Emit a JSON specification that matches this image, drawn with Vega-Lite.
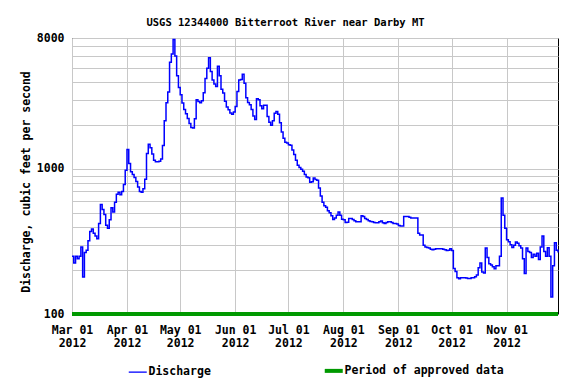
{
  "$schema": "https://vega.github.io/schema/vega-lite/v6.json",
  "width": 486,
  "height": 276,
  "autosize": {"type": "none"},
  "padding": {"left": 72, "top": 38, "right": 18, "bottom": 70},
  "background": "white",
  "title": {
    "text": "USGS 12344000 Bitterroot River near Darby MT",
    "font": "DejaVu Sans Mono",
    "fontSize": 10.5,
    "fontWeight": "bold",
    "color": "black",
    "anchor": "middle",
    "baseline": "alphabetic",
    "dx": -29.5,
    "offset": -4
  },
  "config": {
    "view": {"stroke": "black", "strokeWidth": 1},
    "font": "DejaVu Sans Mono"
  },
  "datasets": {
    "flow": [
      {"date":"2012-03-01","cfs":250},{"date":"2012-03-02","cfs":225},{"date":"2012-03-03","cfs":250},{"date":"2012-03-04","cfs":240},{"date":"2012-03-05","cfs":250},{"date":"2012-03-06","cfs":290},{"date":"2012-03-07","cfs":180},{"date":"2012-03-08","cfs":265},{"date":"2012-03-09","cfs":275},{"date":"2012-03-10","cfs":320},{"date":"2012-03-11","cfs":370},{"date":"2012-03-12","cfs":385},{"date":"2012-03-13","cfs":360},{"date":"2012-03-14","cfs":345},{"date":"2012-03-15","cfs":330},{"date":"2012-03-16","cfs":420},{"date":"2012-03-17","cfs":570},{"date":"2012-03-18","cfs":525},{"date":"2012-03-19","cfs":485},{"date":"2012-03-20","cfs":410},{"date":"2012-03-21","cfs":390},{"date":"2012-03-22","cfs":446},{"date":"2012-03-23","cfs":540},{"date":"2012-03-24","cfs":505},{"date":"2012-03-25","cfs":590},{"date":"2012-03-26","cfs":670},{"date":"2012-03-27","cfs":690},{"date":"2012-03-28","cfs":665},{"date":"2012-03-29","cfs":700},{"date":"2012-03-30","cfs":780},{"date":"2012-03-31","cfs":980},
      {"date":"2012-04-01","cfs":1360},{"date":"2012-04-02","cfs":1090},{"date":"2012-04-03","cfs":955},{"date":"2012-04-04","cfs":915},{"date":"2012-04-05","cfs":875},{"date":"2012-04-06","cfs":820},{"date":"2012-04-07","cfs":750},{"date":"2012-04-08","cfs":700},{"date":"2012-04-09","cfs":690},{"date":"2012-04-10","cfs":730},{"date":"2012-04-11","cfs":850},{"date":"2012-04-12","cfs":1280},{"date":"2012-04-13","cfs":1480},{"date":"2012-04-14","cfs":1400},{"date":"2012-04-15","cfs":1270},{"date":"2012-04-16","cfs":1150},{"date":"2012-04-17","cfs":1120},{"date":"2012-04-18","cfs":1120},{"date":"2012-04-19","cfs":1130},{"date":"2012-04-20","cfs":1170},{"date":"2012-04-21","cfs":1450},{"date":"2012-04-22","cfs":2150},{"date":"2012-04-23","cfs":2860},{"date":"2012-04-24","cfs":3400},{"date":"2012-04-25","cfs":5450},{"date":"2012-04-26","cfs":6200},{"date":"2012-04-27","cfs":7800},{"date":"2012-04-28","cfs":6000},{"date":"2012-04-29","cfs":4400},{"date":"2012-04-30","cfs":3650},
      {"date":"2012-05-01","cfs":3250},{"date":"2012-05-02","cfs":2850},{"date":"2012-05-03","cfs":2570},{"date":"2012-05-04","cfs":2400},{"date":"2012-05-05","cfs":2230},{"date":"2012-05-06","cfs":2060},{"date":"2012-05-07","cfs":1930},{"date":"2012-05-08","cfs":1920},{"date":"2012-05-09","cfs":2220},{"date":"2012-05-10","cfs":3000},{"date":"2012-05-11","cfs":2920},{"date":"2012-05-12","cfs":2860},{"date":"2012-05-13","cfs":2950},{"date":"2012-05-14","cfs":3350},{"date":"2012-05-15","cfs":4200},{"date":"2012-05-16","cfs":4950},{"date":"2012-05-17","cfs":5850},{"date":"2012-05-18","cfs":4700},{"date":"2012-05-19","cfs":4100},{"date":"2012-05-20","cfs":3850},{"date":"2012-05-21","cfs":3700},{"date":"2012-05-22","cfs":5100},{"date":"2012-05-23","cfs":4400},{"date":"2012-05-24","cfs":3550},{"date":"2012-05-25","cfs":3340},{"date":"2012-05-26","cfs":2930},{"date":"2012-05-27","cfs":2680},{"date":"2012-05-28","cfs":2560},{"date":"2012-05-29","cfs":2430},{"date":"2012-05-30","cfs":2380},{"date":"2012-05-31","cfs":2470},
      {"date":"2012-06-01","cfs":2700},{"date":"2012-06-02","cfs":3420},{"date":"2012-06-03","cfs":4100},{"date":"2012-06-04","cfs":4140},{"date":"2012-06-05","cfs":4500},{"date":"2012-06-06","cfs":3900},{"date":"2012-06-07","cfs":3100},{"date":"2012-06-08","cfs":2870},{"date":"2012-06-09","cfs":2770},{"date":"2012-06-10","cfs":2570},{"date":"2012-06-11","cfs":2320},{"date":"2012-06-12","cfs":2190},{"date":"2012-06-13","cfs":3050},{"date":"2012-06-14","cfs":3000},{"date":"2012-06-15","cfs":2730},{"date":"2012-06-16","cfs":2600},{"date":"2012-06-17","cfs":2750},{"date":"2012-06-18","cfs":2750},{"date":"2012-06-19","cfs":2300},{"date":"2012-06-20","cfs":2100},{"date":"2012-06-21","cfs":2000},{"date":"2012-06-22","cfs":2150},{"date":"2012-06-23","cfs":2420},{"date":"2012-06-24","cfs":2490},{"date":"2012-06-25","cfs":2380},{"date":"2012-06-26","cfs":2080},{"date":"2012-06-27","cfs":1800},{"date":"2012-06-28","cfs":1630},{"date":"2012-06-29","cfs":1530},{"date":"2012-06-30","cfs":1510},
      {"date":"2012-07-01","cfs":1470},{"date":"2012-07-02","cfs":1460},{"date":"2012-07-03","cfs":1350},{"date":"2012-07-04","cfs":1260},{"date":"2012-07-05","cfs":1150},{"date":"2012-07-06","cfs":1060},{"date":"2012-07-07","cfs":1025},{"date":"2012-07-08","cfs":995},{"date":"2012-07-09","cfs":965},{"date":"2012-07-10","cfs":915},{"date":"2012-07-11","cfs":880},{"date":"2012-07-12","cfs":870},{"date":"2012-07-13","cfs":810},{"date":"2012-07-14","cfs":815},{"date":"2012-07-15","cfs":865},{"date":"2012-07-16","cfs":845},{"date":"2012-07-17","cfs":835},{"date":"2012-07-18","cfs":740},{"date":"2012-07-19","cfs":650},{"date":"2012-07-20","cfs":590},{"date":"2012-07-21","cfs":558},{"date":"2012-07-22","cfs":545},{"date":"2012-07-23","cfs":515},{"date":"2012-07-24","cfs":500},{"date":"2012-07-25","cfs":475},{"date":"2012-07-26","cfs":448},{"date":"2012-07-27","cfs":460},{"date":"2012-07-28","cfs":480},{"date":"2012-07-29","cfs":505},{"date":"2012-07-30","cfs":480},{"date":"2012-07-31","cfs":450},
      {"date":"2012-08-01","cfs":446},{"date":"2012-08-02","cfs":428},{"date":"2012-08-03","cfs":430},{"date":"2012-08-04","cfs":455},{"date":"2012-08-05","cfs":455},{"date":"2012-08-06","cfs":448},{"date":"2012-08-07","cfs":440},{"date":"2012-08-08","cfs":433},{"date":"2012-08-09","cfs":432},{"date":"2012-08-10","cfs":432},{"date":"2012-08-11","cfs":475},{"date":"2012-08-12","cfs":470},{"date":"2012-08-13","cfs":455},{"date":"2012-08-14","cfs":448},{"date":"2012-08-15","cfs":440},{"date":"2012-08-16","cfs":435},{"date":"2012-08-17","cfs":432},{"date":"2012-08-18","cfs":428},{"date":"2012-08-19","cfs":425},{"date":"2012-08-20","cfs":425},{"date":"2012-08-21","cfs":432},{"date":"2012-08-22","cfs":438},{"date":"2012-08-23","cfs":425},{"date":"2012-08-24","cfs":420},{"date":"2012-08-25","cfs":428},{"date":"2012-08-26","cfs":432},{"date":"2012-08-27","cfs":432},{"date":"2012-08-28","cfs":428},{"date":"2012-08-29","cfs":420},{"date":"2012-08-30","cfs":420},{"date":"2012-08-31","cfs":418},
      {"date":"2012-09-01","cfs":408},{"date":"2012-09-02","cfs":405},{"date":"2012-09-03","cfs":405},{"date":"2012-09-04","cfs":470},{"date":"2012-09-05","cfs":470},{"date":"2012-09-06","cfs":470},{"date":"2012-09-07","cfs":465},{"date":"2012-09-08","cfs":460},{"date":"2012-09-09","cfs":460},{"date":"2012-09-10","cfs":460},{"date":"2012-09-11","cfs":460},{"date":"2012-09-12","cfs":360},{"date":"2012-09-13","cfs":350},{"date":"2012-09-14","cfs":350},{"date":"2012-09-15","cfs":298},{"date":"2012-09-16","cfs":290},{"date":"2012-09-17","cfs":288},{"date":"2012-09-18","cfs":285},{"date":"2012-09-19","cfs":280},{"date":"2012-09-20","cfs":277},{"date":"2012-09-21","cfs":280},{"date":"2012-09-22","cfs":282},{"date":"2012-09-23","cfs":282},{"date":"2012-09-24","cfs":282},{"date":"2012-09-25","cfs":282},{"date":"2012-09-26","cfs":280},{"date":"2012-09-27","cfs":277},{"date":"2012-09-28","cfs":274},{"date":"2012-09-29","cfs":275},{"date":"2012-09-30","cfs":282},
      {"date":"2012-10-01","cfs":274},{"date":"2012-10-02","cfs":206},{"date":"2012-10-03","cfs":196},{"date":"2012-10-04","cfs":178},{"date":"2012-10-05","cfs":175},{"date":"2012-10-06","cfs":178},{"date":"2012-10-07","cfs":178},{"date":"2012-10-08","cfs":178},{"date":"2012-10-09","cfs":177},{"date":"2012-10-10","cfs":176},{"date":"2012-10-11","cfs":176},{"date":"2012-10-12","cfs":178},{"date":"2012-10-13","cfs":178},{"date":"2012-10-14","cfs":181},{"date":"2012-10-15","cfs":186},{"date":"2012-10-16","cfs":208},{"date":"2012-10-17","cfs":225},{"date":"2012-10-18","cfs":195},{"date":"2012-10-19","cfs":192},{"date":"2012-10-20","cfs":285},{"date":"2012-10-21","cfs":245},{"date":"2012-10-22","cfs":222},{"date":"2012-10-23","cfs":218},{"date":"2012-10-24","cfs":212},{"date":"2012-10-25","cfs":205},{"date":"2012-10-26","cfs":215},{"date":"2012-10-27","cfs":215},{"date":"2012-10-28","cfs":250},{"date":"2012-10-29","cfs":630},{"date":"2012-10-30","cfs":480},{"date":"2012-10-31","cfs":390},
      {"date":"2012-11-01","cfs":325},{"date":"2012-11-02","cfs":315},{"date":"2012-11-03","cfs":300},{"date":"2012-11-04","cfs":288},{"date":"2012-11-05","cfs":298},{"date":"2012-11-06","cfs":314},{"date":"2012-11-07","cfs":308},{"date":"2012-11-08","cfs":296},{"date":"2012-11-09","cfs":285},{"date":"2012-11-10","cfs":240},{"date":"2012-11-11","cfs":190},{"date":"2012-11-12","cfs":285},{"date":"2012-11-13","cfs":270},{"date":"2012-11-14","cfs":265},{"date":"2012-11-15","cfs":245},{"date":"2012-11-16","cfs":258},{"date":"2012-11-17","cfs":250},{"date":"2012-11-18","cfs":262},{"date":"2012-11-19","cfs":238},{"date":"2012-11-20","cfs":290},{"date":"2012-11-21","cfs":345},{"date":"2012-11-22","cfs":270},{"date":"2012-11-23","cfs":250},{"date":"2012-11-24","cfs":286},{"date":"2012-11-25","cfs":250},{"date":"2012-11-26","cfs":131},{"date":"2012-11-27","cfs":215},{"date":"2012-11-28","cfs":310},{"date":"2012-11-29","cfs":275},{"date":"2012-11-30","cfs":265}
    ],
    "approved": [
      {"start": "2012-03-01", "end": "2012-11-30", "cfs": 100}
    ]
  },
  "layer": [
    {
      "data": {"name": "approved"},
      "mark": {"type": "rule", "strokeWidth": 4, "clip": false},
      "encoding": {
        "x": {
          "field": "start",
          "type": "temporal",
          "scale": {
            "type": "utc",
            "nice": false,
            "domain": [
              {"year": 2012, "month": 3, "date": 1, "utc": true},
              {"year": 2012, "month": 11, "date": 30, "utc": true}
            ]
          },
          "axis": {
            "title": null,
            "tickCount": {"interval": "month", "step": 1},
            "labelExpr": "[utcFormat(datum.value, '%b %d'), utcFormat(datum.value, '%Y')]",
            "labelFont": "DejaVu Sans Mono",
            "labelFontWeight": "bold",
            "labelFontSize": 11.5,
            "labelColor": "black",
            "labelLineHeight": 13,
            "labelPadding": 10,
            "labelFlush": false,
            "labelOverlap": false,
            "labelBound": false,
            "ticks": false,
            "tickSize": 0,
            "domain": false,
            "grid": true,
            "gridColor": "#c8c8c8",
            "gridWidth": 1
          }
        },
        "x2": {"field": "end"},
        "y": {
          "field": "cfs",
          "type": "quantitative",
          "scale": {"type": "log", "domain": [100, 8000], "nice": false},
          "axis": {
            "title": "Discharge, cubic feet per second",
            "titleFont": "DejaVu Sans Mono",
            "titleFontWeight": "bold",
            "titleFontSize": 11.5,
            "titleColor": "black",
            "titlePadding": 5,
            "titleY": 143.5,
            "values": [100, 200, 300, 400, 500, 600, 700, 800, 900, 1000, 2000, 3000, 4000, 5000, 6000, 7000, 8000],
            "labelExpr": "datum.value == 100 || datum.value == 1000 || datum.value == 8000 ? format(datum.value, 'd') : ''",
            "labelFont": "DejaVu Sans Mono",
            "labelFontWeight": "bold",
            "labelFontSize": 11.5,
            "labelColor": "black",
            "labelPadding": 8,
            "labelFlush": false,
            "labelOverlap": false,
            "labelBound": false,
            "ticks": false,
            "tickSize": 0,
            "domain": false,
            "grid": true,
            "gridColor": "#c8c8c8",
            "gridWidth": 1
          }
        },
        "color": {
          "datum": "Period of approved data",
          "scale": {
            "domain": ["Discharge", "Period of approved data"],
            "range": ["#0000ff", "#009900"]
          },
          "legend": {
            "title": null,
            "orient": "none",
            "legendX": 60,
            "legendY": 327,
            "direction": "horizontal",
            "padding": 0,
            "symbolType": "stroke",
            "symbolSize": 324,
            "symbolStrokeWidth": 1.5,
            "labelOffset": 5,
            "columnPadding": 105,
            "labelFont": "DejaVu Sans Mono",
            "labelFontWeight": "bold",
            "labelFontSize": 11.5,
            "labelColor": "black",
            "encode": {
              "symbols": {
                "update": {
                  "strokeWidth": {"signal": "datum.value === 'Discharge' ? 1.3 : 4"}
                }
              }
            }
          }
        }
      }
    },
    {
      "data": {"name": "flow"},
      "mark": {"type": "line", "strokeWidth": 1.5, "interpolate": "step-after"},
      "encoding": {
        "x": {"field": "date", "type": "temporal"},
        "y": {"field": "cfs", "type": "quantitative"},
        "color": {"datum": "Discharge"}
      }
    }
  ]
}
